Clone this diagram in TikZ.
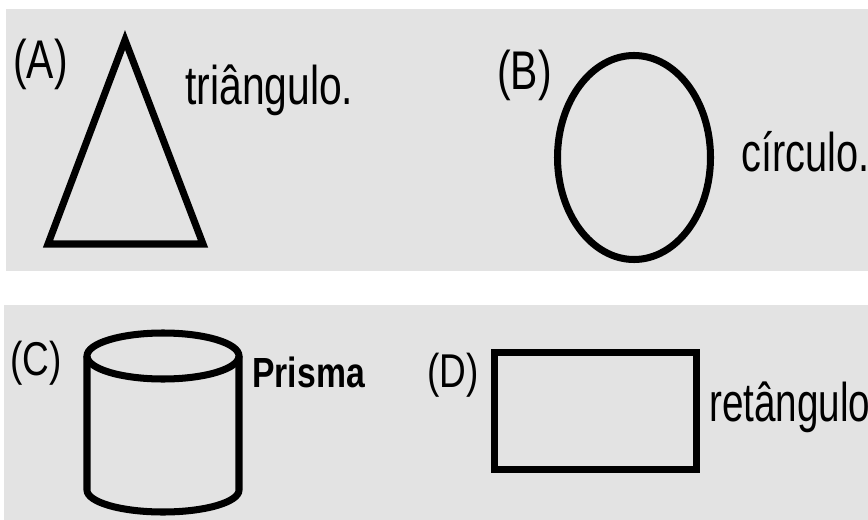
\documentclass[tikz,border=0pt]{standalone}
\usepackage{fontspec}
\setmainfont{Liberation Sans}
\usepackage{tikz}
\definecolor{bandgray}{RGB}{227,227,227}
\tikzset{
  shapeline/.style={line width=4pt, line join=miter},
  biglabel/.style={anchor=base west, inner sep=0pt, xscale=#1, font=\fontsize{31}{31}\selectfont},
  biglabel/.default=0.75,
  smalllabel/.style={anchor=base west, inner sep=0pt, xscale=0.78, font=\fontsize{27}{27}\selectfont},
  boldlabel/.style={anchor=base west, inner sep=0pt, xscale=0.8, font=\fontsize{24}{24}\selectfont\bfseries}
}

\begin{document}
\begin{tikzpicture}[x=0.02cm, y=-0.02cm]
\useasboundingbox (0,0) rectangle (868,520);
\fill[bandgray] (6,9) rectangle (868,271);
\fill[bandgray] (4,305) rectangle (868,520);
\draw[shapeline] (125,40) -- (48,244) -- (203,244) -- cycle;
\draw[shapeline] (634,157.5) ellipse (76.5 and 102);
\draw[shapeline] (163,356) ellipse (76 and 23);
\draw[shapeline] (87,356) -- (87,490) arc[start angle=180, end angle=0, x radius=76, y radius=22] -- (239,356);
\draw[shapeline] (494.5,352.5) rectangle (696.5,469.5);
\foreach \n/\x/\y/\t in {A/13/79/(A), tri/185/105/triângulo., B/497/90/(B)}{
\node[biglabel] (lab\n) at (\x,\y) {\t};
}
\node[biglabel=0.73] (labcirc) at (741,172) {círculo.};
\node[biglabel=0.71] (labret) at (709,421) {retângulo};
\node[smalllabel] (labC) at (10,375) {(C)};
\node[smalllabel] (labD) at (427,387) {(D)};
\node[boldlabel] (labprisma) at (252,387) {Prisma};
\end{tikzpicture}
\end{document}
